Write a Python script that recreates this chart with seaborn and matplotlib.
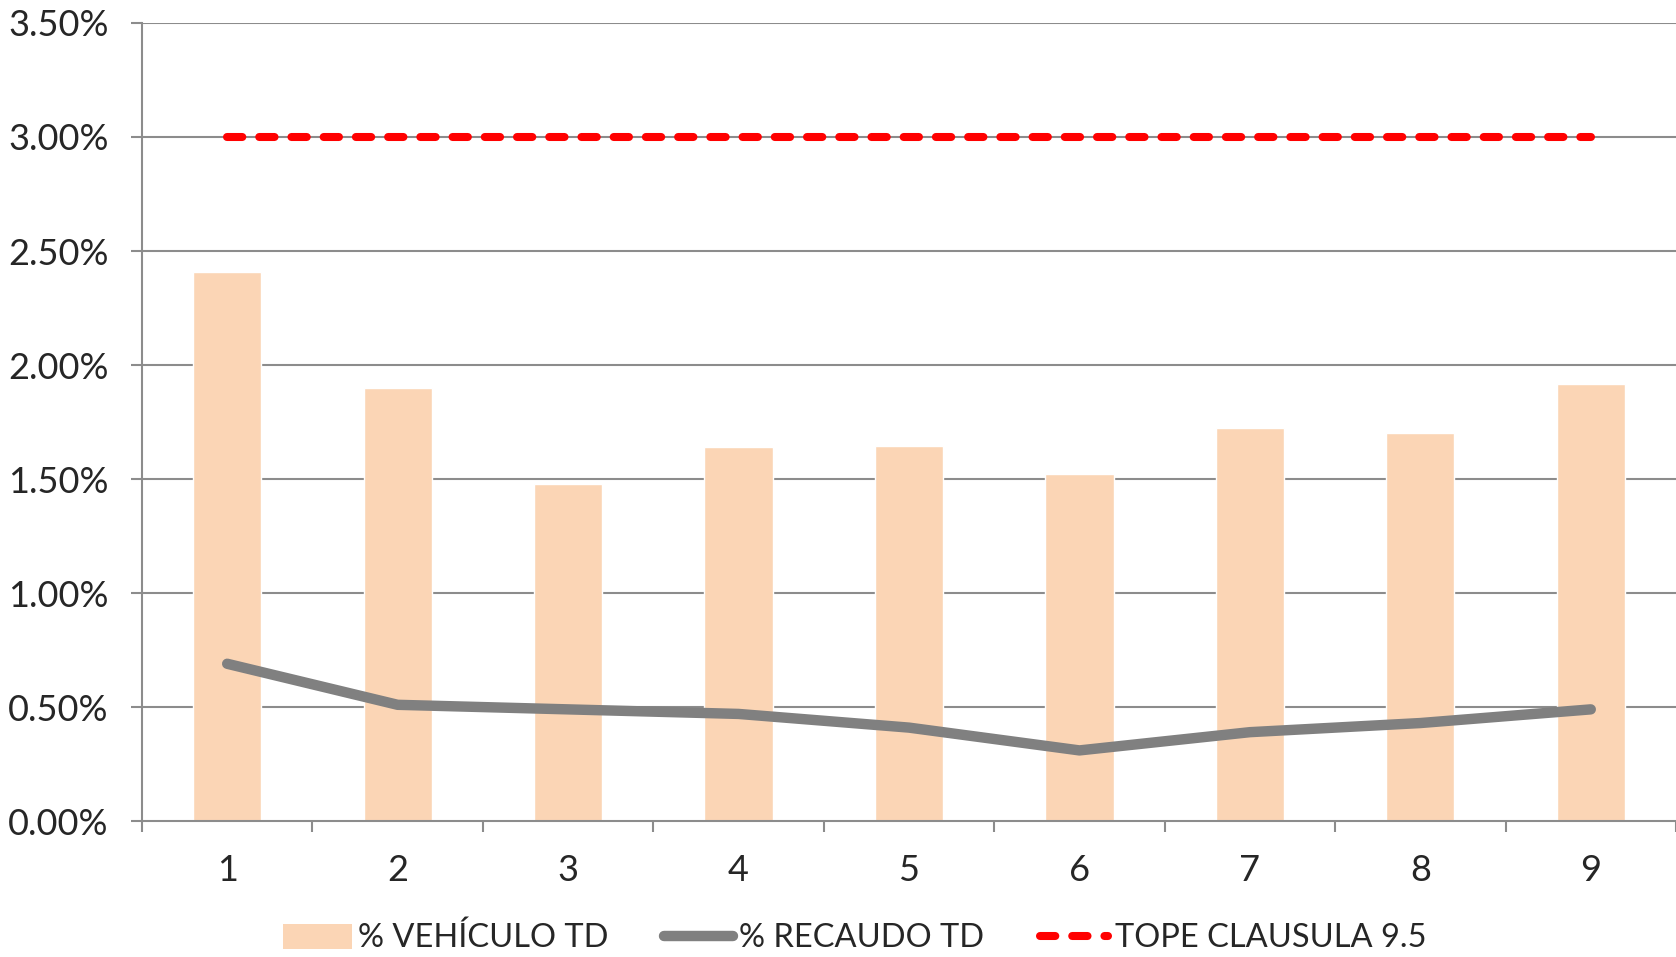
import pandas as pd
import matplotlib.pyplot as plt
import seaborn as sns
from matplotlib.patches import Patch
from matplotlib.lines import Line2D
from matplotlib.ticker import FuncFormatter, FixedLocator

# Chart data (values in %)
categories = ['1', '2', '3', '4', '5', '6', '7', '8', '9']
vehiculo_td = [2.41, 1.90, 1.48, 1.64, 1.645, 1.52, 1.725, 1.70, 1.915]
recaudo_td = [0.69, 0.51, 0.49, 0.47, 0.41, 0.31, 0.39, 0.43, 0.49]
tope_clausula = [3.00] * 9
legend_labels = ['% VEHÍCULO TD', '% RECAUDO TD', 'TOPE CLAUSULA 9.5']

df = pd.DataFrame({'periodo': categories, 'vehiculo': vehiculo_td,
                   'recaudo': recaudo_td, 'tope': tope_clausula})

sns.set_style('white')
plt.rcParams['font.family'] = ['Lato', 'DejaVu Sans']

bar_color = '#FBD5B5'
grid_color = '#8C8C8C'

fig = plt.figure(figsize=(16.76, 9.57), dpi=100)
ax = fig.add_axes([0.0847, 0.142, 0.9153, 0.834])

for y in [0.5, 1.0, 1.5, 2.0, 2.5, 3.0, 3.5]:
    ax.axhline(y, color=grid_color, lw=1.5, zorder=0)

sns.barplot(data=df, x='periodo', y='vehiculo', color=bar_color, width=0.4,
            saturation=1, ax=ax, zorder=2)
sns.lineplot(data=df, x='periodo', y='recaudo', color='#808080', lw=7.5,
             solid_capstyle='round', solid_joinstyle='round', ax=ax, zorder=3)
sns.lineplot(data=df, x='periodo', y='tope', color='#FF0000', lw=5.8,
             dashes=False, ax=ax, zorder=3)
ax.lines[-1].set_dashes((1.9, 2.1))
ax.lines[-1].set_dash_capstyle('round')

ax.set_ylim(0, 3.5)
ax.set_xlim(-0.5, 8.5)
ax.yaxis.set_major_locator(FixedLocator([0, 0.5, 1, 1.5, 2, 2.5, 3, 3.5]))
ax.yaxis.set_major_formatter(FuncFormatter(lambda v, p: f'{v:.2f}%'))
ax.set_xticks(range(9))
ax.set_xticklabels(categories)
ax.xaxis.set_minor_locator(FixedLocator([i - 0.5 for i in range(10)]))
ax.tick_params(axis='x', which='major', length=0, pad=24, labelsize=26)
ax.tick_params(axis='x', which='minor', length=8, width=1.5, color=grid_color,
               direction='out', bottom=True)
ax.tick_params(axis='y', length=8, width=1.5, color=grid_color, left=True,
               direction='out', pad=16, labelsize=26)
ax.set_xlabel('')
ax.set_ylabel('')

for side in ['top', 'right']:
    ax.spines[side].set_visible(False)
for side in ['left', 'bottom']:
    ax.spines[side].set_color(grid_color)
    ax.spines[side].set_linewidth(1.5)

handles = [
    Patch(facecolor=bar_color, edgecolor='none'),
    Line2D([], [], color='#808080', lw=7.5, solid_capstyle='round'),
    Line2D([], [], color='#FF0000', lw=5.8, dashes=(1.9, 2.1), dash_capstyle='round'),
]
fig.legend(handles, legend_labels, loc='lower center', bbox_to_anchor=(0.51, -0.027),
           ncol=3, frameon=False, handlelength=2.1, handletextpad=0.2,
           columnspacing=1.7, handleheight=0.8, fontsize=23.5)

fig.savefig('out.png', dpi=100)
